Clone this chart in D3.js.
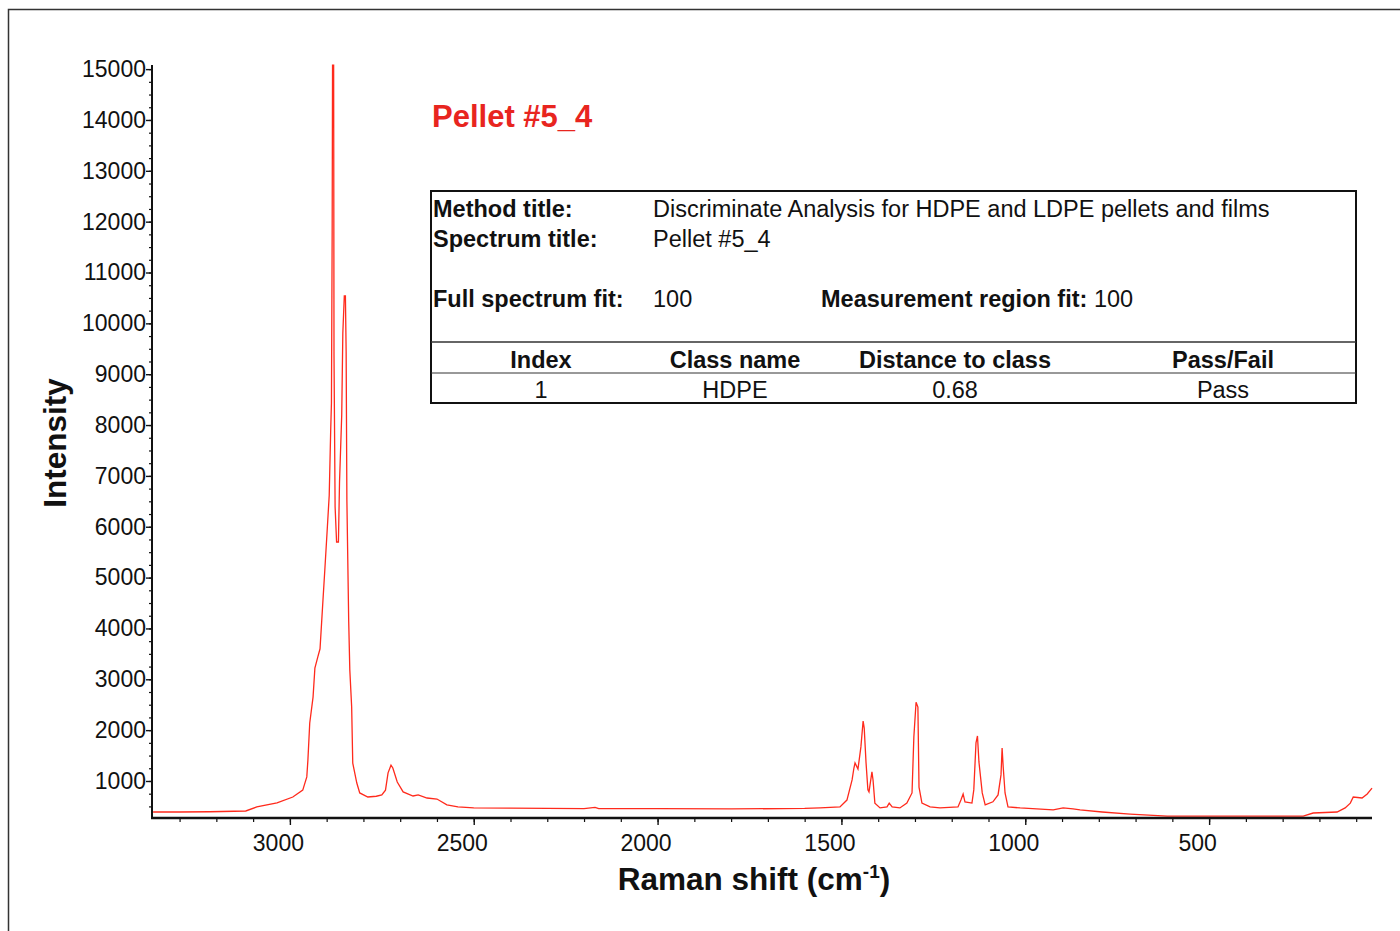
<!DOCTYPE html>
<html lang="en">
<head>
    <meta charset="UTF-8">
    <title>Pellet #5_4 Raman spectrum</title>
    <script src="https://cdn.jsdelivr.net/npm/d3@7/dist/d3.min.js"></script>
    <style>
        html, body {
            margin: 0;
            padding: 0;
            background: #fff;
        }
        svg text {
            font-family: "Liberation Sans", Arial, sans-serif;
            fill: #111;
        }
    </style>
</head>
<body>
<div id="chart"></div>

<script>
    // Raman shift (cm-1), high to low
    var shift = [3372, 3300, 3218, 3120, 3090, 3035, 2992, 2965, 2954, 2951, 2946, 2937, 2932, 2924, 2918,
        2910, 2905, 2898, 2893, 2889, 2887, 2885, 2884, 2881, 2880, 2877, 2873, 2868, 2865, 2859, 2856,
        2852, 2849, 2847, 2845, 2840, 2837, 2832, 2829, 2818, 2810, 2788, 2765, 2750, 2740, 2733, 2725,
        2720, 2708, 2692, 2665, 2651, 2627, 2600, 2573, 2543, 2500, 2400, 2300, 2200, 2170, 2160, 2000,
        1800, 1600, 1558, 1504, 1485, 1471, 1466, 1463, 1455, 1447, 1441, 1438, 1433, 1428, 1425, 1419,
        1417, 1414, 1409, 1395, 1376, 1370, 1362, 1341, 1322, 1308, 1303, 1297, 1292, 1289, 1281, 1259,
        1232, 1183, 1175, 1169, 1164, 1145, 1140, 1134, 1130, 1126, 1117, 1109, 1088, 1074, 1066, 1063,
        1060, 1055, 1047, 1014, 924, 897, 870, 851, 791, 715, 614, 244, 217, 152, 130, 116, 108, 84, 70, 57];

    // intensity at each shift
    var counts = [390, 390, 395, 410, 490, 570, 685, 820, 1080, 1410, 2140, 2650, 3220, 3440, 3600,
        4560, 5150, 6000, 6620, 7900, 8430, 11800, 15080, 15080, 9380, 6390, 5700, 5700, 6880, 8200, 9810,
        10540, 10540, 9440, 6530, 4130, 3180, 2460, 1350, 960, 765, 685, 700, 725, 820, 1160, 1310,
        1255, 980, 785, 705, 725, 665, 645, 530, 490, 470, 465, 460, 455, 480, 455, 455,
        450, 460, 470, 490, 625, 1020, 1255, 1355, 1235, 1670, 2180, 2040, 1355, 825, 785, 1080,
        1180, 1020, 565, 470, 490, 565, 490, 470, 565, 765, 1865, 2550, 2455, 880, 565, 490,
        470, 490, 625, 745, 590, 565, 825, 1750, 1885, 1375, 765, 530, 590, 725, 1120, 1650,
        1275, 765, 490, 470, 430, 470, 450, 430, 390, 350, 310, 310, 370, 390, 470, 565, 685, 665, 745, 860];

    var xTicks = [3000, 2500, 2000, 1500, 1000, 500];
    var yTicks = [1000, 2000, 3000, 4000, 5000, 6000, 7000, 8000, 9000, 10000, 11000, 12000, 13000, 14000, 15000];

    var sampleTitle = "Pellet #5_4";
    var infoLabels = ["Method title:", "Spectrum title:", "Full spectrum fit:"];
    var infoValues = ["Discriminate Analysis for HDPE and LDPE pellets and films", "Pellet #5_4", "100"];
    var regionFitLabel = "Measurement region fit:";
    var regionFitValue = "100";
    var tableHeaders = ["Index", "Class name", "Distance to class", "Pass/Fail"];
    var tableRow = ["1", "HDPE", "0.68", "Pass"];

    var W = 1400, H = 931;
    var plot = {left: 152, right: 1372, top: 65, bottom: 818};
    var lineRed = "#ff2a1c";
    var tableFont = 23.5;

    var svg = d3.select("#chart").append("svg")
        .attr("width", W)
        .attr("height", H);

    // frame round the figure
    svg.append("rect")
        .attr("x", 8.5).attr("y", 9.5)
        .attr("width", W + 20).attr("height", H + 20)
        .attr("fill", "none")
        .attr("stroke", "#333")
        .attr("stroke-width", 1.5);

    var x = d3.scaleLinear().domain([3375, 57]).range([plot.left, plot.right]);
    var y = d3.scaleLinear().domain([272, 15081]).range([plot.bottom, plot.top]);

    var points = shift.map(function (s, i) { return [s, counts[i]]; });

    // spectrum
    var line = d3.line()
        .x(function (d) { return x(d[0]); })
        .y(function (d) { return y(d[1]); });

    svg.append("path")
        .datum(points)
        .attr("d", line)
        .attr("fill", "none")
        .attr("stroke", lineRed)
        .attr("stroke-width", 1.3)
        .attr("stroke-linejoin", "miter");

    // y axis: minor ticks every 250, labelled every 1000
    var yMinor = d3.range(500, 15001, 250);
    svg.append("g")
        .attr("transform", "translate(" + plot.left + ",0)")
        .call(d3.axisLeft(y).tickValues(yMinor).tickSize(3).tickFormat(""))
        .call(function (g) { g.select(".domain").remove(); })
        .selectAll("line").attr("stroke", "#111").attr("stroke-width", 1.2);

    var yAxis = svg.append("g")
        .attr("transform", "translate(" + plot.left + ",0)")
        .call(d3.axisLeft(y).tickValues(yTicks).tickSize(6).tickPadding(0).tickFormat(d3.format("d")));
    yAxis.select(".domain").remove();
    yAxis.selectAll("line").attr("stroke", "#111").attr("stroke-width", 1.4);
    yAxis.selectAll("text").attr("font-size", 23).attr("fill", "#111");

    // x axis: minor ticks every 100
    var xMinor = d3.range(100, 3400, 100);
    svg.append("g")
        .attr("transform", "translate(0," + plot.bottom + ")")
        .call(d3.axisBottom(x).tickValues(xMinor).tickSize(4).tickFormat(""))
        .call(function (g) { g.select(".domain").remove(); })
        .selectAll("line").attr("stroke", "#111").attr("stroke-width", 1.2);

    var xAxis = svg.append("g")
        .attr("transform", "translate(0," + plot.bottom + ")")
        .call(d3.axisBottom(x).tickValues(xTicks).tickSize(7).tickPadding(10).tickFormat(d3.format("d")));
    xAxis.select(".domain").remove();
    xAxis.selectAll("line").attr("stroke", "#111").attr("stroke-width", 1.4);
    xAxis.selectAll("text").attr("font-size", 23).attr("fill", "#111").attr("dx", -12);

    // axis lines
    svg.append("line")
        .attr("x1", plot.left).attr("x2", plot.left)
        .attr("y1", plot.top).attr("y2", plot.bottom + 1)
        .attr("stroke", "#111").attr("stroke-width", 2);
    svg.append("line")
        .attr("x1", plot.left - 1).attr("x2", plot.right)
        .attr("y1", plot.bottom).attr("y2", plot.bottom)
        .attr("stroke", "#111").attr("stroke-width", 2.5);

    // axis titles
    var xTitle = svg.append("text")
        .attr("x", 754).attr("y", 890)
        .attr("text-anchor", "middle")
        .attr("font-size", 31.5)
        .attr("font-weight", "bold");
    xTitle.append("tspan").text("Raman shift (cm");
    xTitle.append("tspan").attr("font-size", 19).attr("dy", -12).text("-1");
    xTitle.append("tspan").attr("dy", 12).text(")");

    svg.append("text")
        .attr("transform", "translate(66,443) rotate(-90)")
        .attr("text-anchor", "middle")
        .attr("font-size", 31.5)
        .attr("font-weight", "bold")
        .text("Intensity");

    // sample title
    svg.append("text")
        .attr("x", 432).attr("y", 127)
        .attr("font-size", 31)
        .attr("font-weight", "bold")
        .style("fill", "#e8251f")
        .text(sampleTitle);

    // result table
    var tb = {x: 431, y: 191, w: 925, h: 212};
    var table = svg.append("g");
    table.append("rect")
        .attr("x", tb.x).attr("y", tb.y)
        .attr("width", tb.w).attr("height", tb.h)
        .attr("fill", "#fff")
        .attr("stroke", "#111")
        .attr("stroke-width", 2);
    table.append("line")
        .attr("x1", tb.x).attr("x2", tb.x + tb.w)
        .attr("y1", 342).attr("y2", 342)
        .attr("stroke", "#333").attr("stroke-width", 1.5);
    table.append("line")
        .attr("x1", tb.x).attr("x2", tb.x + tb.w)
        .attr("y1", 373).attr("y2", 373)
        .attr("stroke", "#333").attr("stroke-width", 1);

    var infoY = [217, 247, 307];
    table.selectAll(".infoLabel")
        .data(infoLabels)
        .enter().append("text")
        .attr("class", "infoLabel")
        .attr("x", 433)
        .attr("y", function (d, i) { return infoY[i]; })
        .attr("font-size", tableFont)
        .attr("font-weight", "bold")
        .text(function (d) { return d; });
    table.selectAll(".infoValue")
        .data(infoValues)
        .enter().append("text")
        .attr("class", "infoValue")
        .attr("x", 653)
        .attr("y", function (d, i) { return infoY[i]; })
        .attr("font-size", tableFont)
        .text(function (d) { return d; });

    var fit = table.append("text")
        .attr("x", 821).attr("y", 307)
        .attr("font-size", tableFont);
    fit.append("tspan").attr("font-weight", "bold").text(regionFitLabel);
    fit.append("tspan").text(" " + regionFitValue);

    var colX = [541, 735, 955, 1223];
    table.selectAll(".head")
        .data(tableHeaders)
        .enter().append("text")
        .attr("class", "head")
        .attr("x", function (d, i) { return colX[i]; })
        .attr("y", 368)
        .attr("text-anchor", "middle")
        .attr("font-size", tableFont)
        .attr("font-weight", "bold")
        .text(function (d) { return d; });
    table.selectAll(".cell")
        .data(tableRow)
        .enter().append("text")
        .attr("class", "cell")
        .attr("x", function (d, i) { return colX[i]; })
        .attr("y", 398)
        .attr("text-anchor", "middle")
        .attr("font-size", tableFont)
        .text(function (d) { return d; });
</script>
</body>
</html>
